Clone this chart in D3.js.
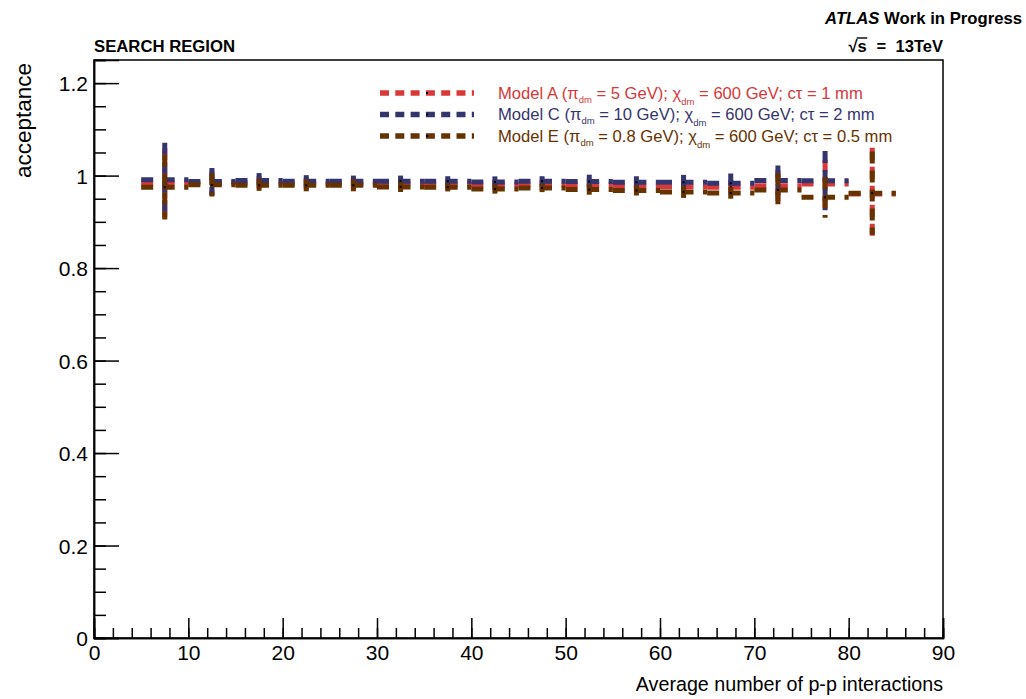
<!DOCTYPE html>
<html>
<head>
<meta charset="utf-8">
<script src="https://cdn.jsdelivr.net/npm/d3@7"></script>
<style>
  html, body { margin: 0; padding: 0; background: #fff; }
  svg { display: block; font-family: "Liberation Sans", Arial, Helvetica, sans-serif; }
</style>
</head>
<body>
<svg id="chart" width="1026" height="699"></svg>
<script>
// Pile-up bins (average number of p-p interactions), width 5
const binEdges = [5, 10, 15, 20, 25, 30, 35, 40, 45, 50, 55, 60, 65, 70, 75, 80, 85];

// Acceptance per bin and its statistical uncertainty
const modelA    = [0.984, 0.984, 0.984, 0.983, 0.983, 0.982, 0.981, 0.980, 0.980, 0.9805, 0.978, 0.976, 0.975, 0.978, 0.982, 0.960];
const modelAErr = [0.075, 0.027, 0.015, 0.013, 0.012, 0.012, 0.011, 0.011, 0.011, 0.012, 0.012, 0.014, 0.016, 0.034, 0.053, 0.100];
const modelC    = [0.991, 0.9875, 0.9895, 0.988, 0.988, 0.988, 0.9877, 0.9863, 0.9877, 0.987, 0.9856, 0.9856, 0.9834, 0.9896, 0.989, null];
const modelCErr = [0.080, 0.029, 0.016, 0.013, 0.012, 0.012, 0.011, 0.012, 0.011, 0.015, 0.013, 0.016, 0.021, 0.032, 0.064, null];
const modelE    = [0.975, 0.980, 0.979, 0.979, 0.979, 0.9755, 0.9747, 0.971, 0.9733, 0.9697, 0.968, 0.9647, 0.9625, 0.969, 0.953, 0.962];
const modelEErr = [0.070, 0.025, 0.014, 0.013, 0.013, 0.011, 0.009, 0.010, 0.009, 0.011, 0.011, 0.013, 0.0125, 0.036, 0.044, 0.090];

const seriesNames  = ["A", "C", "E"];
const seriesColors = ["#d8383a", "#35356e", "#663300"];
// Legend labels as runs: [text, "pi" | "chi" subscript | "" plain]
const legendLabels = [
  [["Model A (π", ""], ["dm", "pi"], [" = 5 GeV); χ", ""], ["dm", "chi"], [" = 600 GeV; cτ = 1 mm", ""]],
  [["Model C (π", ""], ["dm", "pi"], [" = 10 GeV); χ", ""], ["dm", "chi"], [" = 600 GeV; cτ = 2 mm", ""]],
  [["Model E (π", ""], ["dm", "pi"], [" = 0.8 GeV); χ", ""], ["dm", "chi"], [" = 600 GeV; cτ = 0.5 mm", ""]]
];

const xDomain = [0, 90];
const yDomain = [0, 1.25];
const xMajorTicks = d3.range(0, 91, 10);
const xMinorTicks = d3.range(0, 91, 2);
const yMajorTicks = [0, 0.2, 0.4, 0.6, 0.8, 1.0, 1.2];
const yMinorTicks = d3.range(0, 1.2501, 0.05);

const svg = d3.select("#chart");
const frame = { left: 94, right: 943, top: 60, bottom: 638 };

const x = d3.scaleLinear().domain(xDomain).range([frame.left, frame.right]);
const y = d3.scaleLinear().domain(yDomain).range([frame.bottom, frame.top]);

// Frame box
svg.append("rect")
  .attr("x", frame.left).attr("y", frame.top)
  .attr("width", frame.right - frame.left).attr("height", frame.bottom - frame.top)
  .attr("fill", "none").attr("stroke", "#000").attr("stroke-width", 1.5);

// X axis: minor then major ticks, pointing into the plot
const xMinor = svg.append("g").attr("transform", `translate(0,${frame.bottom})`)
  .call(d3.axisBottom(x).tickValues(xMinorTicks).tickSize(-10).tickFormat(""));
const xMajor = svg.append("g").attr("transform", `translate(0,${frame.bottom})`)
  .call(d3.axisBottom(x).tickValues(xMajorTicks).tickSize(-20).tickPadding(7).tickFormat(d3.format("d")));

// Y axis
const yMinor = svg.append("g").attr("transform", `translate(${frame.left},0)`)
  .call(d3.axisLeft(y).tickValues(yMinorTicks).tickSize(-12).tickFormat(""));
const yMajor = svg.append("g").attr("transform", `translate(${frame.left},0)`)
  .call(d3.axisLeft(y).tickValues(yMajorTicks).tickSize(-25).tickPadding(6)
    .tickFormat(d => String(+d.toFixed(1))));

[xMinor, xMajor, yMinor, yMajor].forEach(g => {
  g.select(".domain").attr("stroke", "#000").attr("stroke-width", 1.5);
  g.selectAll(".tick line").attr("stroke", "#000").attr("stroke-width", 1.5);
  g.selectAll(".tick text").attr("fill", "#000").attr("font-size", 21)
    .attr("font-family", "Liberation Sans, Arial, sans-serif");
});
yMajor.selectAll(".tick text").attr("dy", "0.36em");

// Axis titles
svg.append("text")
  .attr("x", frame.right).attr("y", 691)
  .attr("text-anchor", "end").attr("font-size", 19.7)
  .text("Average number of p-p interactions");

svg.append("text")
  .attr("transform", "translate(31,63) rotate(-90)")
  .attr("text-anchor", "end").attr("font-size", 22.5)
  .text("acceptance");

// Histograms with error bars, drawn in order A, C, E
const seriesValues = [modelA, modelC, modelE];
const seriesErrors = [modelAErr, modelCErr, modelEErr];
const plot = svg.append("g");

seriesNames.forEach((name, si) => {
  const vals = seriesValues[si];
  const errs = seriesErrors[si];
  const color = seriesColors[si];
  const bins = vals.map((v, i) => ({
    lo: binEdges[i], hi: binEdges[i + 1],
    mid: (binEdges[i] + binEdges[i + 1]) / 2,
    v, e: errs[i]
  })).filter(d => d.v !== null);

  const g = plot.append("g").attr("class", "series-" + name);

  g.selectAll("line.h").data(bins).join("line")
    .attr("class", "h")
    .attr("x1", d => x(d.lo)).attr("x2", d => x(d.hi))
    .attr("y1", d => y(d.v)).attr("y2", d => y(d.v))
    .attr("stroke", color).attr("stroke-width", 5)
    .attr("stroke-dasharray", "12,9.5");

  g.selectAll("line.v").data(bins).join("line")
    .attr("class", "v")
    .attr("x1", d => x(d.mid)).attr("x2", d => x(d.mid))
    .attr("y1", d => y(d.v + d.e)).attr("y2", d => y(d.v - d.e))
    .attr("stroke", color).attr("stroke-width", 5)
    .attr("stroke-dasharray", "12,7");

  g.selectAll("rect.m").data(bins).join("rect")
    .attr("class", "m")
    .attr("x", d => x(d.mid) - 1).attr("y", d => y(d.v) - 1)
    .attr("width", 2).attr("height", 2)
    .attr("fill", "#000");
});

// Legend
const legendRows = [93, 114.5, 136];
const legend = svg.append("g");
seriesNames.forEach((name, i) => {
  const ly = legendRows[i];
  legend.append("line")
    .attr("x1", 380).attr("x2", 474).attr("y1", ly).attr("y2", ly)
    .attr("stroke", seriesColors[i]).attr("stroke-width", 5.5)
    .attr("stroke-dasharray", "9,6.3");
  legend.append("rect")
    .attr("x", 426).attr("y", ly - 1).attr("width", 2).attr("height", 2).attr("fill", "#000");

  const t = legend.append("text")
    .attr("x", 498).attr("y", ly + 5.5)
    .attr("font-size", 16.6).attr("fill", seriesColors[i]);
  let pending = 0;
  legendLabels[i].forEach(([str, kind]) => {
    if (kind === "") {
      t.append("tspan").attr("dy", pending).text(str);
      pending = 0;
    } else {
      const drop = kind === "pi" ? 4 : 6;
      t.append("tspan").attr("font-size", 9.5).attr("dy", drop).text(str);
      pending = -drop;
    }
  });
});

// Header labels
svg.append("text")
  .attr("x", 94).attr("y", 52)
  .attr("font-size", 16).attr("font-weight", "bold")
  .attr("textLength", 141).attr("lengthAdjust", "spacingAndGlyphs")
  .text("SEARCH REGION");

const atlas = svg.append("text")
  .attr("x", 1022).attr("y", 24).attr("text-anchor", "end")
  .attr("font-size", 16.7).attr("font-weight", "bold");
atlas.append("tspan").attr("font-style", "italic").text("ATLAS");
atlas.append("tspan").text(" Work in Progress");

const energy = svg.append("text")
  .attr("x", 943).attr("y", 52).attr("text-anchor", "end")
  .attr("font-size", 16.5).attr("font-weight", "bold")
  .attr("word-spacing", 5)
  .text("√s = 13TeV");
// Bar over the radicand
const eb = energy.node().getBBox();
const rootW = energy.node().getSubStringLength(0, 1);
const sW = energy.node().getSubStringLength(1, 1);
svg.append("line")
  .attr("x1", eb.x + rootW - 1).attr("x2", eb.x + rootW + sW + 0.5)
  .attr("y1", 38).attr("y2", 38)
  .attr("stroke", "#000").attr("stroke-width", 1.4);
</script>
</body>
</html>
